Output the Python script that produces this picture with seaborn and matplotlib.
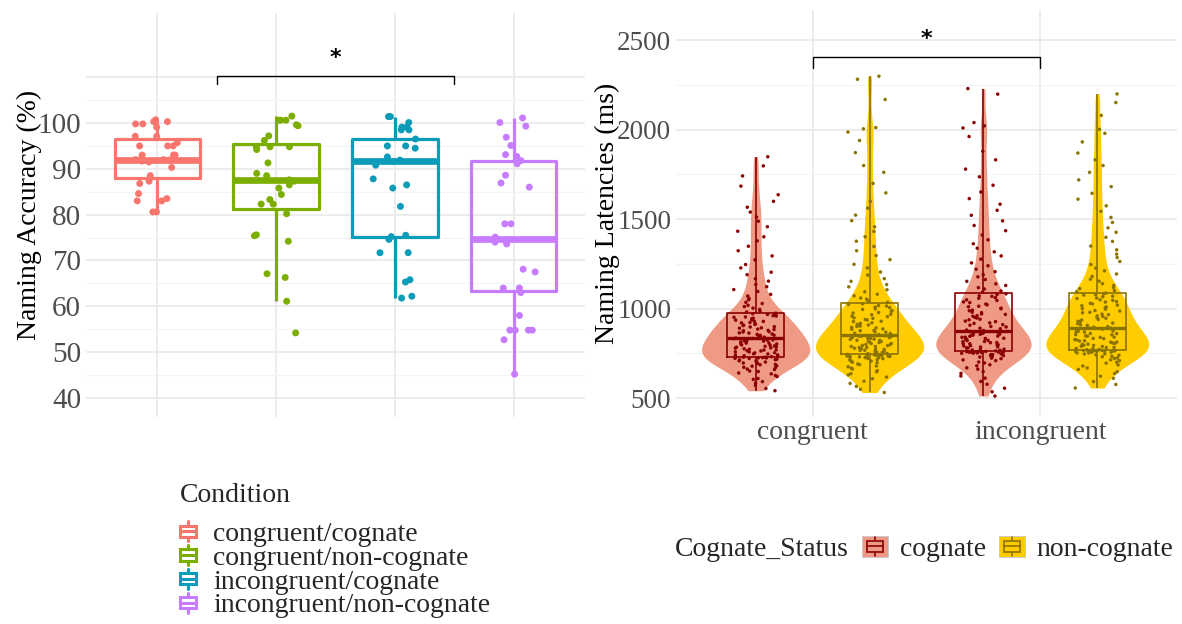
import numpy as np
import pandas as pd
import matplotlib
matplotlib.use("Agg")
import matplotlib.pyplot as plt
import seaborn as sns
from matplotlib.legend_handler import HandlerBase
from matplotlib.patches import Rectangle
from matplotlib.lines import Line2D
from matplotlib.ticker import FixedLocator, FuncFormatter

# ---------------- data: left panel (naming accuracy, %) ----------------
conditions = ["congruent/cognate", "congruent/non-cognate",
              "incongruent/cognate", "incongruent/non-cognate"]
condition_colors = ["#F8766D", "#7CAE00", "#0A9CB8", "#C77CFF"]

acc_cong_cog = [99.8, 99.8, 100.7, 100.3, 100.3, 99.1, 97.1, 97.1, 95.7, 95.0, 95.0,
                95.0, 93.0, 93.0, 93.0, 92.0, 92.0, 92.0, 91.5, 91.7, 91.9, 90.3,
                88.5, 87.3, 86.8, 84.6, 83.5, 83.0, 83.0, 80.6, 80.6]
acc_cong_non = [101.5, 100.6, 100.6, 100.6, 99.6, 99.4, 97.2, 96.2, 94.8, 94.8, 94.8,
                94.2, 91.3, 89.0, 88.5, 87.6, 87.3, 86.5, 85.8, 84.4, 83.3, 82.3,
                82.3, 80.2, 75.6, 75.4, 74.2, 67.1, 66.3, 61.1, 54.2]
acc_incong_cog = [101.4, 101.4, 100.1, 99.1, 99.1, 98.5, 98.5, 96.5, 95.0, 95.0, 94.5,
                  92.6, 91.9, 91.7, 91.6, 90.8, 87.8, 86.5, 85.8, 81.8, 75.5, 75.2,
                  74.6, 71.7, 71.7, 65.8, 65.3, 62.2, 61.8]
acc_incong_non = [101.1, 100.1, 99.3, 96.9, 95.1, 93.1, 92.7, 91.8, 91.1, 88.6, 86.9,
                  86.0, 78.0, 78.0, 75.1, 74.4, 74.0, 73.6, 68.1, 67.5, 64.0, 64.0,
                  63.0, 58.0, 54.8, 54.8, 54.8, 54.8, 52.7, 45.2]
acc_lists = [acc_cong_cog, acc_cong_non, acc_incong_cog, acc_incong_non]

# ---------------- data: right panel (naming latencies, ms) ----------------
rt_conditions = ["congruent", "incongruent"]
cognate_status = ["cognate", "non-cognate"]
violin_fill = ["#EE9A84", "#FFCC00"]
dark_colors = ["#8B0000", "#8B7300"]

rt_cong_cog = [
    541, 553, 570, 584, 592, 604, 609, 620, 626, 635, 640, 648, 651, 659, 662, 669, 672, 678, 680, 686,
    688, 694, 696, 701, 702, 707, 708, 713, 714, 717, 718, 721, 722, 724, 724, 726, 727, 728, 728, 729,
    731, 734, 736, 740, 741, 746, 747, 752, 753, 757, 758, 763, 764, 768, 769, 773, 775, 779, 780, 784,
    786, 789, 791, 795, 797, 801, 802, 807, 808, 813, 815, 818, 820, 824, 825, 828, 829, 832, 833, 835,
    838, 840, 844, 846, 850, 851, 856, 858, 863, 864, 869, 871, 876, 878, 883, 885, 890, 892, 897, 899,
    905, 907, 912, 914, 920, 922, 928, 929, 935, 937, 943, 946, 951, 953, 958, 960, 965, 967, 971, 974,
    981, 985, 995, 1002, 1011, 1018, 1028, 1035, 1049, 1056, 1070, 1079, 1095, 1106, 1122, 1134, 1153, 1167, 1189, 1203,
    1227, 1246, 1272, 1294, 1323, 1348, 1378, 1401, 1432, 1457, 1488, 1511, 1539, 1566, 1599, 1636, 1684, 1741, 1797, 1848]
rt_cong_non = [
    531, 549, 565, 582, 594, 608, 617, 629, 636, 647, 653, 662, 667, 675, 679, 687, 690, 697, 700, 706,
    708, 714, 715, 720, 721, 726, 726, 730, 730, 734, 733, 736, 735, 738, 737, 740, 739, 741, 741, 742,
    744, 748, 749, 754, 755, 760, 761, 766, 767, 772, 772, 777, 778, 782, 783, 788, 788, 793, 794, 799,
    799, 804, 805, 810, 811, 816, 817, 822, 823, 828, 829, 833, 834, 838, 838, 842, 842, 846, 846, 848,
    852, 854, 860, 862, 868, 870, 876, 878, 884, 886, 892, 894, 900, 902, 908, 911, 917, 920, 927, 929,
    936, 939, 945, 948, 955, 958, 965, 968, 975, 978, 985, 988, 995, 998, 1005, 1008, 1014, 1017, 1023, 1027,
    1035, 1041, 1052, 1059, 1071, 1080, 1094, 1105, 1121, 1134, 1152, 1167, 1187, 1204, 1227, 1247, 1273, 1296, 1323, 1347,
    1376, 1401, 1431, 1457, 1491, 1522, 1561, 1599, 1646, 1699, 1761, 1799, 1871, 1939, 1986, 2004, 2011, 2168, 2281, 2298]
rt_incong_cog = [
    511, 535, 555, 577, 593, 611, 623, 638, 648, 661, 669, 680, 686, 696, 701, 709, 713, 720, 723, 729,
    731, 737, 738, 743, 743, 747, 747, 751, 750, 753, 752, 755, 754, 757, 756, 758, 757, 759, 759, 760,
    763, 767, 768, 773, 774, 779, 780, 785, 786, 791, 792, 797, 798, 803, 804, 809, 810, 815, 816, 821,
    822, 827, 828, 833, 834, 839, 840, 845, 846, 851, 852, 856, 857, 861, 861, 865, 865, 869, 869, 872,
    877, 880, 887, 890, 897, 900, 907, 910, 917, 920, 927, 930, 937, 940, 947, 950, 957, 960, 967, 970,
    977, 980, 988, 991, 999, 1002, 1010, 1013, 1021, 1025, 1033, 1037, 1045, 1049, 1057, 1061, 1068, 1071, 1078, 1082,
    1091, 1098, 1109, 1117, 1129, 1138, 1152, 1162, 1177, 1189, 1206, 1220, 1239, 1255, 1276, 1294, 1317, 1337, 1362, 1384,
    1411, 1435, 1464, 1490, 1521, 1549, 1583, 1614, 1651, 1689, 1736, 1779, 1831, 1879, 1961, 2009, 2021, 2039, 2198, 2229]
rt_incong_non = [
    556, 576, 592, 610, 622, 637, 647, 660, 668, 679, 685, 695, 700, 709, 713, 721, 724, 731, 733, 739,
    741, 746, 747, 752, 752, 756, 756, 760, 759, 762, 761, 763, 763, 764, 764, 765, 765, 766, 766, 766,
    770, 771, 776, 777, 782, 783, 788, 789, 794, 795, 800, 801, 806, 807, 812, 813, 819, 820, 825, 826,
    832, 833, 839, 840, 846, 847, 853, 854, 860, 861, 867, 868, 873, 874, 879, 880, 885, 886, 890, 891,
    896, 899, 906, 909, 916, 919, 926, 929, 936, 939, 946, 949, 956, 959, 966, 969, 976, 979, 986, 989,
    996, 999, 1006, 1009, 1016, 1019, 1026, 1029, 1036, 1039, 1046, 1049, 1056, 1059, 1066, 1069, 1075, 1077, 1083, 1086,
    1094, 1100, 1111, 1118, 1130, 1139, 1153, 1164, 1180, 1193, 1211, 1226, 1246, 1263, 1285, 1304, 1328, 1349, 1375, 1398,
    1426, 1451, 1481, 1509, 1543, 1574, 1611, 1644, 1681, 1719, 1761, 1799, 1831, 1869, 1931, 1979, 2001, 2079, 2151, 2199]
rt_lists = [rt_cong_cog, rt_cong_non, rt_incong_cog, rt_incong_non]

# ---------------- build tables ----------------
acc_df = pd.DataFrame({
    "Condition": np.repeat(conditions, [len(a) for a in acc_lists]),
    "Accuracy": np.concatenate(acc_lists),
})
group_order = [f"{c}/{s}" for c in rt_conditions for s in cognate_status]
rt_df = pd.DataFrame({
    "Group": np.repeat(group_order, [len(a) for a in rt_lists]),
    "Cognate_Status": np.repeat([s for c in rt_conditions for s in cognate_status],
                                [len(a) for a in rt_lists]),
    "RT": np.concatenate(rt_lists),
})

# ---------------- style ----------------
sns.set_theme(style="white")
plt.rcParams["font.family"] = ["Liberation Serif", "DejaVu Sans"]
np.random.seed(11)

W, H = 1182, 624
fig = plt.figure(figsize=(W / 100, H / 100), dpi=100)
ax1 = fig.add_axes([86 / W, 1 - 417 / H, 499 / W, 404 / H])
ax2 = fig.add_axes([676 / W, 1 - 417 / H, 501 / W, 407 / H])

GRID_MAJ = "#EBEBEB"
GRID_MIN = "#F3F3F3"
TICK_COL = "#4D4D4D"

# ---------------- left panel ----------------
sns.boxplot(data=acc_df, x="Condition", y="Accuracy", hue="Condition", order=conditions,
            hue_order=conditions, palette=condition_colors, saturation=1, fill=False,
            width=0.72, linewidth=2.3, showfliers=False, dodge=False,
            medianprops=dict(linewidth=4.8), capprops=dict(linewidth=0),
            legend=False, ax=ax1)
sns.stripplot(data=acc_df, x="Condition", y="Accuracy", hue="Condition", order=conditions,
              hue_order=conditions, palette=condition_colors, jitter=0.19, size=5.0,
              linewidth=0, dodge=False, legend=False, ax=ax1, zorder=3)

ax1.set_xlim(-0.6, 3.6)
ax1.set_ylim(35.85, 124)
ax1.yaxis.set_major_locator(FixedLocator(list(range(40, 111, 10))))
ax1.yaxis.set_major_formatter(FuncFormatter(lambda v, p: f"{v:.0f}" if v <= 100 else ""))
ax1.yaxis.set_minor_locator(FixedLocator(list(range(45, 106, 10))))
ax1.set_xticks(range(len(conditions)))
ax1.set_xticklabels([""] * len(conditions))
ax1.grid(True, which="major", color=GRID_MAJ, lw=1.3)
ax1.grid(True, which="minor", axis="y", color=GRID_MIN, lw=0.8)
ax1.set_axisbelow(True)
for s in ax1.spines.values():
    s.set_visible(False)
ax1.tick_params(which="both", length=0, labelsize=21, labelcolor=TICK_COL, pad=3.5)
ax1.set_xlabel("")
ax1.set_ylabel("Naming Accuracy (%)", fontsize=20, color="black", labelpad=-3)

# significance bracket (between condition pairs)
bx0 = (0 + 1) / 2
bx1 = (2 + 3) / 2
ax1.plot([bx0, bx0, bx1, bx1], [108.4, 110.2, 110.2, 108.4], color="black", lw=1.0, clip_on=False)
ax1.text((bx0 + bx1) / 2, 112.9, "*", ha="center", va="baseline", fontsize=16,
         fontweight="bold", family="DejaVu Sans", color="black")

# ---------------- right panel ----------------
sns.violinplot(data=rt_df, x="Group", y="RT", hue="Cognate_Status", order=group_order,
               hue_order=cognate_status, palette=violin_fill, saturation=1, dodge=False,
               cut=0, inner=None, width=0.95, bw_adjust=0.6, linewidth=0,
               legend=False, ax=ax2)
sns.boxplot(data=rt_df, x="Group", y="RT", hue="Cognate_Status", order=group_order,
            hue_order=cognate_status, palette=dark_colors, saturation=1, dodge=False,
            fill=False, width=0.5, whis=(0, 100), showfliers=False, linewidth=1.2,
            medianprops=dict(linewidth=2.4), capprops=dict(linewidth=0),
            legend=False, ax=ax2)
sns.stripplot(data=rt_df, x="Group", y="RT", hue="Cognate_Status", order=group_order,
              hue_order=cognate_status, palette=dark_colors, jitter=0.2, size=2.5,
              linewidth=0, dodge=False, legend=False, ax=ax2, zorder=3)

cond_pos = [np.mean([i for i, g in enumerate(group_order) if g.startswith(c + "/")])
            for c in rt_conditions]
ax2.set_xlim(-0.7, 3.7)
ax2.set_ylim(394, 2668)
ax2.set_xticks(cond_pos)
ax2.set_xticklabels(rt_conditions)
ax2.yaxis.set_major_locator(FixedLocator(list(range(500, 2501, 500))))
ax2.yaxis.set_minor_locator(FixedLocator(list(range(750, 2251, 500))))
ax2.grid(True, which="major", color=GRID_MAJ, lw=1.3)
ax2.grid(True, which="minor", axis="y", color=GRID_MIN, lw=0.8)
ax2.set_axisbelow(True)
for s in ax2.spines.values():
    s.set_visible(False)
ax2.tick_params(which="both", length=0, labelsize=19.5, labelcolor=TICK_COL, pad=3.5)
ax2.tick_params(axis="x", labelsize=20, pad=2)
ax2.set_xlabel("")
ax2.set_ylabel("Naming Latencies (ms)", fontsize=20, color="black", labelpad=-2)

ax2.plot([cond_pos[0], cond_pos[0], cond_pos[1], cond_pos[1]], [2342, 2403, 2403, 2342],
         color="black", lw=1.0, clip_on=False)
ax2.text(np.mean(cond_pos), 2472, "*", ha="center", va="baseline", fontsize=16,
         fontweight="bold", family="DejaVu Sans", color="black")


# ---------------- legends ----------------
class BoxGlyph:
    def __init__(self, line, fill="white", bg=None, lw=2.0, box_w=0.62):
        self.line, self.fill, self.bg, self.lw, self.box_w = line, fill, bg, lw, box_w


class BoxGlyphHandler(HandlerBase):
    def create_artists(self, legend, h, xd, yd, width, height, fontsize, trans):
        arts = []
        x0, y0 = -xd, -yd
        if h.bg is not None:
            arts.append(Rectangle((x0, y0), width, height, facecolor=h.bg,
                                  edgecolor="#C8C8C8", lw=0.6, transform=trans))
        cx = x0 + width / 2
        arts.append(Line2D([cx, cx], [y0 + 0.04 * height, y0 + 0.96 * height],
                           color=h.line, lw=h.lw, transform=trans))
        bw = width * h.box_w
        arts.append(Rectangle((cx - bw / 2, y0 + 0.25 * height), bw, 0.5 * height,
                              facecolor=h.fill, edgecolor=h.line, lw=h.lw, transform=trans))
        arts.append(Line2D([cx - bw / 2, cx + bw / 2], [y0 + height / 2] * 2,
                           color=h.line, lw=h.lw, transform=trans))
        return arts


fig.text(180 / W, 1 - 495 / H, "Condition", fontsize=20, va="center", ha="left")
left_handles = [BoxGlyph(c, "white", None, 2.2, 0.8) for c in condition_colors]
fig.legend(left_handles, conditions, loc="upper left",
           bbox_to_anchor=(178 / W, 1 - 520 / H), frameon=False,
           fontsize=20, handlelength=0.72, handleheight=0.85,
           handletextpad=0.54, labelspacing=-0.1, borderpad=0, borderaxespad=0,
           handler_map={BoxGlyph: BoxGlyphHandler()})

right_handles = [BoxGlyph(d, f, f, 1.2, 0.6) for d, f in zip(dark_colors, violin_fill)]
fig.text(675 / W, 1 - 549 / H, "Cognate_Status", fontsize=20, va="center", ha="left")
fig.legend(right_handles, cognate_status, loc="center left",
           bbox_to_anchor=(862 / W, 1 - 549 / H), ncol=2, frameon=False,
           fontsize=20, handlelength=0.93, handleheight=0.8, handletextpad=0.43,
           columnspacing=0.47, borderpad=0, borderaxespad=0,
           handler_map={BoxGlyph: BoxGlyphHandler()})

fig.savefig("out.png", dpi=100, facecolor="white")
